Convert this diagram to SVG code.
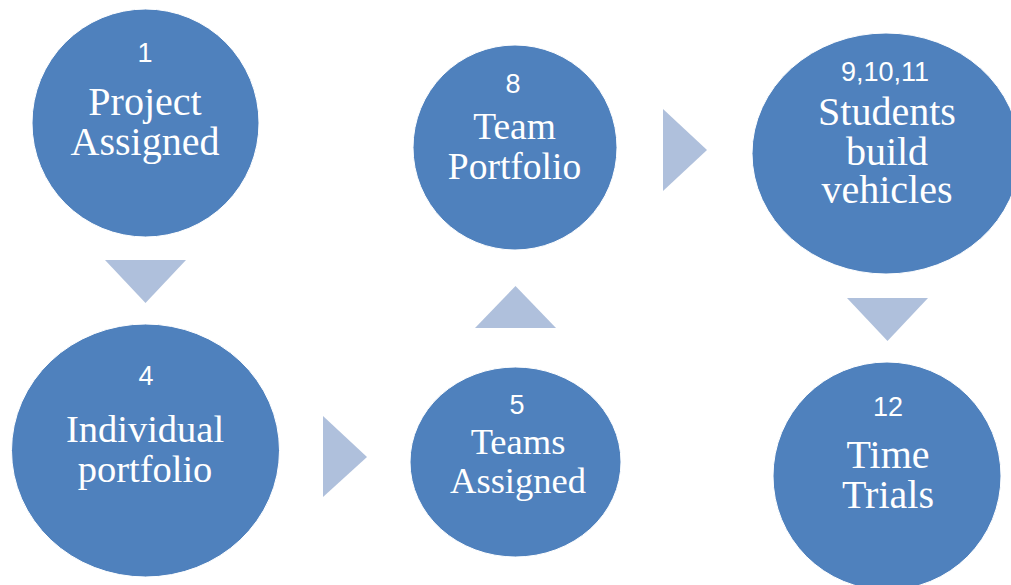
<svg xmlns="http://www.w3.org/2000/svg" width="1011" height="585" viewBox="0 0 1011 585">
<style>
.node{fill:#4F81BD;stroke:#FFFFFF;stroke-width:1}
.num{font-family:"Liberation Sans",Arial,sans-serif;font-size:27px;fill:#FFFFFF;text-anchor:middle}
.lbl{font-family:"Liberation Serif","Times New Roman",serif;fill:#FFFFFF;text-anchor:middle}
.arr{fill:#AFC0DC}
</style>
<rect width="1011" height="585" fill="#FFFFFF"/>
<g id="connectors">
<polygon class="arr" points="105,260 186,260 145.5,303"/>
<polygon class="arr" points="323,416 323,497 367,457"/>
<polygon class="arr" points="475,328 556,328 515.5,286"/>
<polygon class="arr" points="663,109 663,191 707,150"/>
<polygon class="arr" points="847,298 928,298 887.5,341"/>
</g>
<g id="node1">
<ellipse class="node" cx="145.5" cy="123" rx="113.5" ry="114"/>
<text class="num" x="145" y="62">1</text>
<text class="lbl" font-size="40" x="145" y="115">Project</text>
<text class="lbl" font-size="40" x="145" y="155">Assigned</text>
</g>
<g id="node4">
<ellipse class="node" cx="145.5" cy="450.5" rx="134" ry="126.5"/>
<text class="num" x="146" y="385">4</text>
<text class="lbl" font-size="38.5" x="145" y="442">Individual</text>
<text class="lbl" font-size="38.5" x="145" y="482">portfolio</text>
</g>
<g id="node5">
<ellipse class="node" cx="515.5" cy="462" rx="105.5" ry="95"/>
<text class="num" x="517" y="414">5</text>
<text class="lbl" font-size="36.5" x="518" y="454">Teams</text>
<text class="lbl" font-size="36.5" x="518" y="493">Assigned</text>
</g>
<g id="node8">
<ellipse class="node" cx="515" cy="147.5" rx="102" ry="102.5"/>
<text class="num" x="513" y="93">8</text>
<text class="lbl" font-size="37.5" x="514.5" y="139">Team</text>
<text class="lbl" font-size="37.5" x="514.5" y="179">Portfolio</text>
</g>
<g id="node9">
<ellipse class="node" cx="886" cy="153.5" rx="134" ry="120.5"/>
<text class="num" x="885" y="81">9,10,11</text>
<text class="lbl" font-size="40" x="887" y="125">Students</text>
<text class="lbl" font-size="40" x="887" y="165">build</text>
<text class="lbl" font-size="40" x="887" y="203">vehicles</text>
</g>
<g id="node12">
<ellipse class="node" cx="887" cy="476" rx="114" ry="114"/>
<text class="num" x="888" y="416">12</text>
<text class="lbl" font-size="40" x="888" y="468">Time</text>
<text class="lbl" font-size="40" x="888" y="508">Trials</text>
</g>
</svg>
